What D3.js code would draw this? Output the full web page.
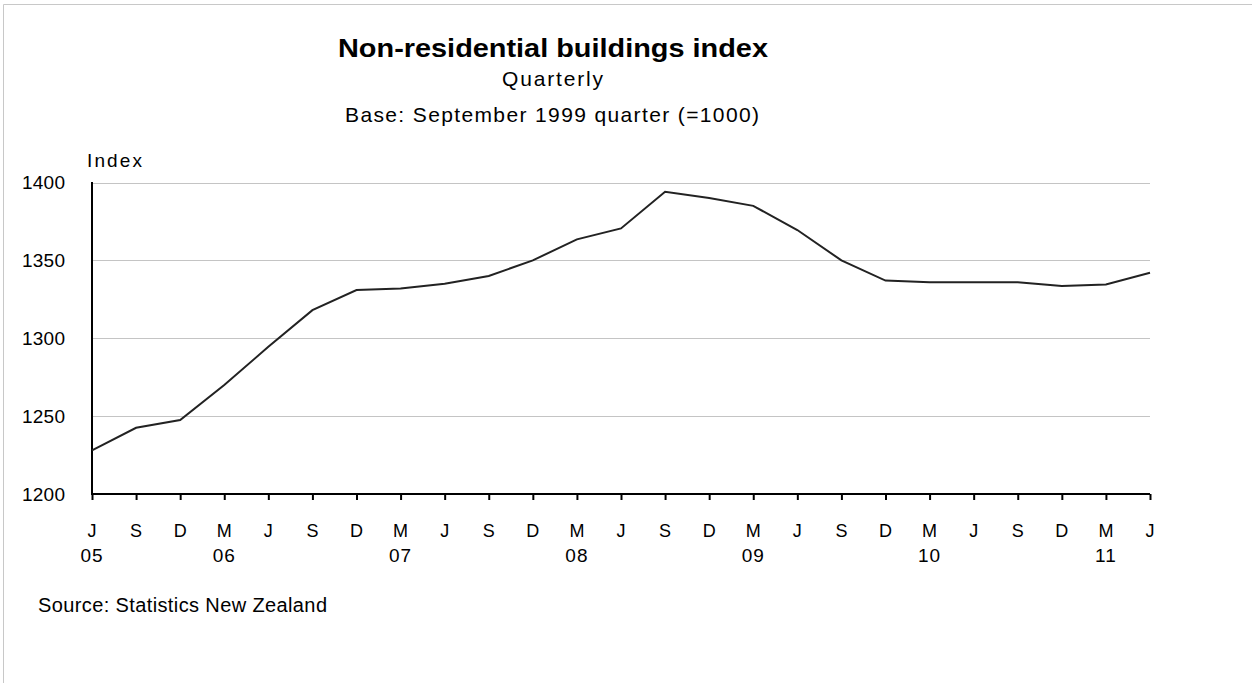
<!DOCTYPE html>
<html><head><meta charset="utf-8">
<script src="https://cdn.jsdelivr.net/npm/d3@7"></script>
<style>
body{margin:0;background:#fff;}
svg text{font-family:"Liberation Sans",Arial,sans-serif;fill:#000;}
</style></head>
<body>
<svg id="c" width="1252" height="683"></svg>
<script>
const months = ["J","S","D","M","J","S","D","M","J","S","D","M","J","S","D","M","J","S","D","M","J","S","D","M","J"];
const years = ["05","","","06","","","","07","","","","08","","","","09","","","","10","","","","11",""];
const values = [1228,1242.5,1247.5,1270,1294.5,1318,1331,1332,1335,1340,1350,1363.5,1370.5,1394,1390,1385,1369.5,1350,1337,1336,1336,1336,1333.5,1334.5,1342];
const yTicks = [1200,1250,1300,1350,1400];

const svg = d3.select("#c");
// frame
svg.append("line").attr("x1",3.5).attr("x2",1252).attr("y1",4.5).attr("y2",4.5).attr("stroke","#c8c8c8");
svg.append("line").attr("x1",3.5).attr("x2",3.5).attr("y1",4.5).attr("y2",683).attr("stroke","#c8c8c8");

const x = d3.scaleLinear().domain([0, months.length-1]).range([92,1150]);
const y = d3.scaleLinear().domain([1200,1400]).range([494,182.5]);

// gridlines
svg.append("g").selectAll("line").data(yTicks.slice(1)).join("line")
  .attr("x1",92).attr("x2",1150)
  .attr("y1",d=>Math.round(y(d))+0.5).attr("y2",d=>Math.round(y(d))+0.5)
  .attr("stroke","#c4c4c4").attr("stroke-width",1);

// y tick labels
svg.append("g").selectAll("text").data(yTicks).join("text")
  .attr("x",65).attr("y",d=>y(d)+6.5).attr("text-anchor","end")
  .attr("font-size",19).attr("textLength",43).attr("lengthAdjust","spacing").text(d=>d);

// axes
const xAxis = d3.axisBottom(x).tickValues(d3.range(months.length)).tickSize(6).tickFormat("");
const gx = svg.append("g").attr("transform","translate(0,494)").call(xAxis);
gx.select(".domain").attr("stroke","#000").attr("stroke-width",2).attr("d","M92,0H1150");
gx.selectAll(".tick line").attr("stroke","#000").attr("stroke-width",2);
svg.append("line").attr("x1",92).attr("x2",92).attr("y1",182).attr("y2",495).attr("stroke","#000").attr("stroke-width",2);

// x labels
svg.append("g").selectAll("text").data(months).join("text")
  .attr("x",(d,i)=>x(i)).attr("y",537).attr("text-anchor","middle").attr("font-size",18).text(d=>d);
svg.append("g").selectAll("text").data(years.map((d,i)=>({d,i})).filter(o=>o.d)).join("text")
  .attr("x",o=>x(o.i)).attr("y",562).attr("text-anchor","middle").attr("font-size",19)
  .attr("letter-spacing",1).text(o=>o.d);

// line
const line = d3.line().x((d,i)=>x(i)).y(d=>y(d));
svg.append("path").datum(values).attr("d",line).attr("fill","none").attr("stroke","#222").attr("stroke-width",2);

// texts
svg.append("text").attr("x",553).attr("y",57).attr("text-anchor","middle").attr("font-size",26).attr("font-weight","bold")
  .attr("textLength",430).attr("lengthAdjust","spacingAndGlyphs").text("Non-residential buildings index");
svg.append("text").attr("x",552.5).attr("y",86).attr("text-anchor","middle").attr("font-size",21)
  .attr("textLength",101).attr("lengthAdjust","spacing").text("Quarterly");
svg.append("text").attr("x",552).attr("y",122).attr("text-anchor","middle").attr("font-size",21)
  .attr("textLength",414).attr("lengthAdjust","spacing").text("Base: September 1999 quarter (=1000)");
svg.append("text").attr("x",87).attr("y",166.5).attr("font-size",19)
  .attr("textLength",55).attr("lengthAdjust","spacing").text("Index");
svg.append("text").attr("x",38).attr("y",611.5).attr("font-size",20)
  .attr("textLength",289).attr("lengthAdjust","spacing").text("Source: Statistics New Zealand");
</script>
</body></html>
